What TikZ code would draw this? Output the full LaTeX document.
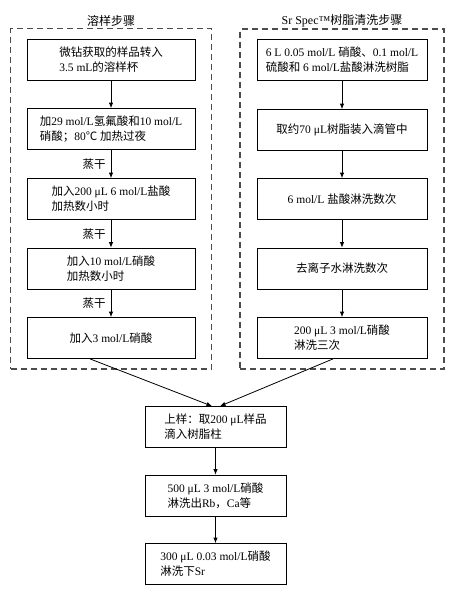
\documentclass[tikz,border=0pt]{standalone}
\usepackage{fontspec}
\setmainfont{Liberation Serif}
\newfontfamily\cjk{Noto Sans CJK SC}
\newcommand{\zh}[1]{{\cjk #1}}
\usetikzlibrary{arrows.meta,fit}

\begin{document}
\begin{tikzpicture}[
  x=1pt, y=-1pt,
  >={Latex[length=5.5pt,width=4.5pt]},
  every node/.style={font=\fontsize{11.5}{15}\selectfont},
  proc/.style={rectangle, draw, line width=0.8pt, minimum height=41pt,
    align=left, inner sep=2pt},
  leftproc/.style={proc, minimum width=168pt},
  rightproc/.style={proc, minimum width=170pt},
  sampleproc/.style={proc, minimum width=141pt},
  frame/.style={draw=black!70, line width=1.4pt, dash pattern=on 6pt off 4pt},
  title/.style={anchor=south, inner sep=1.5pt, font=\fontsize{12}{14}\selectfont},
  flow/.style={->, line width=0.8pt}
]
  \useasboundingbox (0,0) rectangle (450,594);

  % dissolution steps
  \node[leftproc] (l1) at (111,59.5) {\zh{微钻获取的样品转入}\\3.5 mL\zh{的溶样杯}};
  \node[leftproc] (l2) at (111,129) {\zh{加}29 mol/L\zh{氢氟酸和}10 mol/L\\\zh{硝酸；}80\zh{℃} \zh{加热过夜}};
  \node[leftproc] (l3) at (111,199) {\zh{加入}200 μL 6 mol/L\zh{盐酸}\\\zh{加热数小时}};
  \node[leftproc] (l4) at (111,268.5) {\zh{加入}10 mol/L\zh{硝酸}\\\zh{加热数小时}};
  \node[leftproc] (l5) at (111,338) {\zh{加入}3 mol/L\zh{硝酸}};

  % resin cleaning steps
  \node[rightproc] (r1) at (342,60) {6 L 0.05 mol/L \zh{硝酸、}0.1 mol/L\\\zh{硫酸和} 6 mol/L\zh{盐酸淋洗树脂}};
  \node[rightproc] (r2) at (342,130) {\zh{取约}70 μL\zh{树脂装入滴管中}};
  \node[rightproc] (r3) at (342,199) {6 mol/L \zh{盐酸淋洗数次}};
  \node[rightproc] (r4) at (342,268.5) {\zh{去离子水淋洗数次}};
  \node[rightproc] (r5) at (342,338) {200 μL 3 mol/L\zh{硝酸}\\\zh{淋洗三次}};

  % column separation
  \node[sampleproc] (s1) at (215.5,427) {\zh{上样：取}200 μL\zh{样品}\\\zh{滴入树脂柱}};
  \node[sampleproc] (s2) at (215.5,495.5) {500 μL 3 mol/L\zh{硝酸}\\\zh{淋洗出}Rb\zh{，}Ca\zh{等}};
  \node[sampleproc] (s3) at (215.5,564) {300 μL 0.03 mol/L\zh{硝酸}\\\zh{淋洗下}Sr};

  \draw[flow] (l1) -- (l2);
  \draw[flow] (l2) -- node[left, inner sep=5pt] {\zh{蒸干}} (l3);
  \draw[flow] (l3) -- node[left, inner sep=5pt] {\zh{蒸干}} (l4);
  \draw[flow] (l4) -- node[left, inner sep=5pt] {\zh{蒸干}} (l5);
  \foreach \a/\b in {r1/r2, r2/r3, r3/r4, r4/r5, s1/s2, s2/s3}
    \draw[flow] (\a) -- (\b);

  \node[frame, fit=(l1) (l5), inner xsep=16pt, inner ysep=10pt] (dissolve) {};
  \node[frame, fit=(r1) (r5), inner xsep=16.5pt, inner ysep=10pt] (resin) {};
  \node[title] (dissolvetitle) at (dissolve.north) {\zh{溶样步骤}};
  \node[title] (resintitle) at (resin.north) {Sr Spec™\zh{树脂清洗步骤}};

  \draw[flow] ([xshift=-21pt]l5.south) -- ([xshift=-3.5pt]s1.north);
  \draw[flow] ([xshift=-9pt]r5.south) -- ([xshift=4.5pt]s1.north);
\end{tikzpicture}
\end{document}
